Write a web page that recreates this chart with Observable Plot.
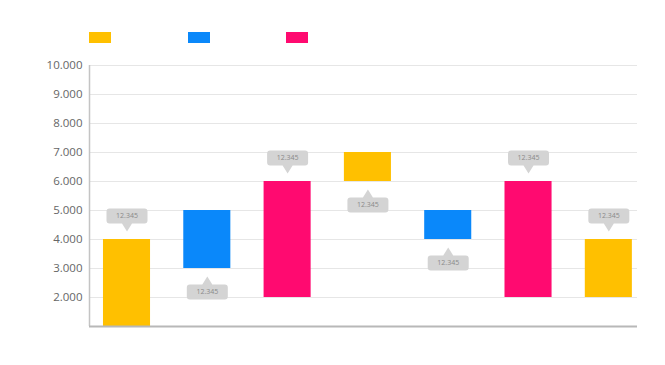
<!DOCTYPE html>
<html>
<head>
<meta charset="utf-8">
<script src="https://cdn.jsdelivr.net/npm/d3@7"></script>
<script src="https://cdn.jsdelivr.net/npm/@observablehq/plot@0.6"></script>
<style>
  body { margin: 0; background: #fff; width: 665px; height: 365px; overflow: hidden; }
  #legend { position: relative; height: 50px; }
  .sw { position: absolute; top: 32px; width: 22px; height: 11px; }
</style>
</head>
<body>
<div id="legend"></div>
<div id="chart"></div>
<script>
// ---- data ----
const seriesNames = ["Serie 1", "Serie 2", "Serie 3"];
const seriesColors = ["#FFC000", "#0A88FA", "#FF0A70"];
const categories = ["A", "B", "C", "D", "E", "F", "G"];
const barSeries = ["Serie 1", "Serie 2", "Serie 3", "Serie 1", "Serie 2", "Serie 3", "Serie 1"];
const startValues = [1000, 3000, 2000, 6000, 4000, 2000, 2000];
const endValues = [4000, 5000, 6000, 7000, 5000, 6000, 4000];
const labelTexts = ["12.345", "12.345", "12.345", "12.345", "12.345", "12.345", "12.345"];
const labelSides = ["above", "below", "above", "below", "below", "above", "above"];
const yTicks = [2000, 3000, 4000, 5000, 6000, 7000, 8000, 9000, 10000];

// ---- legend (swatches, no text as in reference) ----
const legendX = [89, 188, 286];
const legend = document.getElementById("legend");
seriesColors.forEach((c, k) => {
  const s = document.createElement("div");
  s.className = "sw";
  s.style.left = legendX[k] + "px";
  s.style.background = c;
  legend.appendChild(s);
});

const rows = categories.map((c, i) => ({
  i, category: c, series: barSeries[i], start: startValues[i], end: endValues[i],
  label: labelTexts[i], side: labelSides[i]
}));
const above = rows.filter(d => d.side === "above");
const below = rows.filter(d => d.side === "below");

const fmt = d3.formatLocale({decimal: ",", thousands: ".", grouping: [3], currency: ["", "€"]}).format(",");

function callout(dir) {
  // dir = -1 above the anchor, +1 below
  return {
    draw(ctx) {
      const w = 20.5, r = 3, tip = 8, tb = 16, top = 31, hw = 5;
      const Y = v => v * dir;
      ctx.moveTo(0, Y(tip));
      ctx.lineTo(hw, Y(tb));
      ctx.lineTo(w - r, Y(tb));
      ctx.arcTo(w, Y(tb), w, Y(tb + r), r);
      ctx.lineTo(w, Y(top - r));
      ctx.arcTo(w, Y(top), w - r, Y(top), r);
      ctx.lineTo(-w + r, Y(top));
      ctx.arcTo(-w, Y(top), -w, Y(top - r), r);
      ctx.lineTo(-w, Y(tb + r));
      ctx.arcTo(-w, Y(tb), -w + r, Y(tb), r);
      ctx.lineTo(-hw, Y(tb));
      ctx.closePath();
    }
  };
}

const chart = Plot.plot({
  width: 665,
  height: 315,
  marginTop: 15,
  marginBottom: 39,
  marginLeft: 89,
  marginRight: 28,
  style: {fontFamily: "Open Sans", fontSize: "11.5px", color: "#666", background: "white"},
  x: {domain: [-0.467, 6.357], axis: null},
  y: {domain: [1000, 10000], ticks: yTicks, tickFormat: fmt, tickSize: 0, tickPadding: 7, label: null},
  color: {domain: seriesNames, range: seriesColors},
  marks: [
    Plot.ruleY(yTicks, {stroke: "#e6e6e6", strokeWidth: 1}),
    Plot.ruleX([-0.467], {stroke: "#c4c4c4", strokeWidth: 1.5}),
    Plot.rect(rows, {x1: d => d.i - 0.293, x2: d => d.i + 0.293, y1: "start", y2: "end", fill: "series"}),
    Plot.ruleY([1000], {stroke: "#b8b8b8", strokeWidth: 2}),
    Plot.dot(above, {x: "i", y: "end", symbol: callout(-1), r: 5, fill: "#d4d4d4", stroke: null}),
    Plot.dot(below, {x: "i", y: "start", symbol: callout(1), r: 5, fill: "#d4d4d4", stroke: null}),
    Plot.text(above, {x: "i", y: "end", text: "label", dy: -23.5, fontSize: 7, fill: "#8a8a8a"}),
    Plot.text(below, {x: "i", y: "start", text: "label", dy: 23.5, fontSize: 7, fill: "#8a8a8a"})
  ]
});
document.getElementById("chart").appendChild(chart);
</script>
</body>
</html>
